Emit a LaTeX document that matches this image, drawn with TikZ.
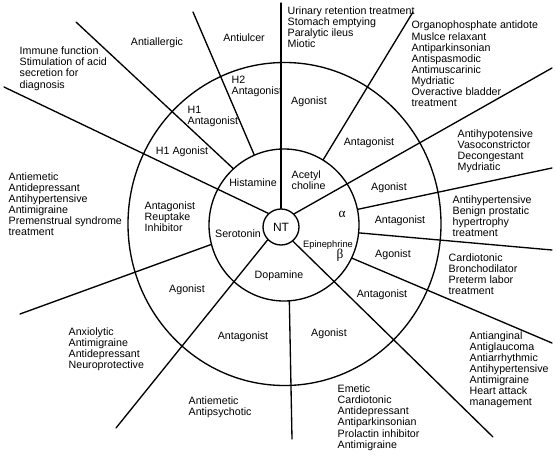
\documentclass[tikz,border=0pt]{standalone}
\usepackage{fontspec}
\setmainfont{Liberation Sans}
\newfontfamily\grk{Liberation Serif}
\usetikzlibrary{shapes.geometric}
\begin{document}
\begin{tikzpicture}[x=0.75pt,y=-0.75pt,line width=1pt,line cap=round,
  txt/.style={font=\fontsize{8}{8.3}\selectfont,inner sep=0pt,align=left},
  lst/.style={txt,anchor=west},
  ring/.style={ellipse,draw,inner sep=0pt}]
  \useasboundingbox (0,0) rectangle (556,456);
  % rings
  \node[ring,minimum width=234.75pt,minimum height=242.25pt] (outer) at (284.5,224) {};
  \node[ring,minimum width=112.5pt,minimum height=114pt] (mid) at (284,225) {};
  \node[circle,draw,minimum size=27pt,inner sep=0pt,
    font=\fontsize{9}{10}\selectfont] (nt) at (281,227) {NT};
  % free ends of the spokes
  \coordinate (e1) at (281,3);
  \coordinate (e2) at (4,87);
  \coordinate (e3) at (76,22);
  \coordinate (e4) at (193,12);
  \coordinate (e5) at (413,12);
  \coordinate (e6) at (552,68);
  \coordinate (e7) at (552,168);
  \coordinate (e8) at (552,250);
  \coordinate (e9) at (552,343);
  \coordinate (e10) at (493,437);
  \coordinate (e11) at (292,439);
  \coordinate (e12) at (116,428);
  \coordinate (e13) at (20,314);
  % spokes
  \draw (nt.90) -- (e1);
  \draw (nt.133) -- (e2);
  \draw (mid.132) -- (e3);
  \draw (mid.113) -- (e4);
  \draw (mid.59) -- (e5);
  \draw (nt.45) -- (e6);
  \draw (mid.12) -- (e7);
  \draw (mid.-6) -- (e8);
  \draw (mid.-26) -- (e9);
  \draw (nt.-50) -- (e10);
  \draw (mid.-86) -- (e11);
  \draw (nt.224) -- (e12);
  \draw (mid.195) -- (e13);
  % transmitters
  \node[txt] (hist) at (253,182.7) {Histamine};
  \node[lst] (ach) at (291,180.5) {Acetyl\\choline};
  \node[txt,font=\fontsize{7}{8}\selectfont] (epi) at (328,245) {Epinephrine};
  \node[txt,font=\grk\fontsize{10}{11}\selectfont] (alpha) at (342,214) {α};
  \node[txt,font=\grk\fontsize{10}{11}\selectfont] (beta) at (340,255) {β};
  \node[txt] (dopa) at (279,276) {Dopamine};
  \node[txt] (sero) at (238,233.3) {Serotonin};
  % receptor actions
  \node[lst] (hiiant) at (231,86.7) {H2\\Antagonist};
  \node[lst] (hiant) at (187,116) {H1\\Antagonist};
  \node[txt] (hiag) at (182,151.7) {H1 Agonist};
  \node[txt] (achag) at (309,101.7) {Agonist};
  \node[txt] (achant) at (369,142.7) {Antagonist};
  \node[txt] (alag) at (389,187.3) {Agonist};
  \node[txt] (alant) at (400,220.7) {Antagonist};
  \node[txt] (beag) at (393,254.3) {Agonist};
  \node[txt] (beant) at (382,294.3) {Antagonist};
  \node[txt] (doag) at (329,334) {Agonist};
  \node[txt] (doant) at (243,337) {Antagonist};
  \node[txt] (seag) at (187,289.3) {Agonist};
  \node[lst] (seant) at (144,217) {Antagonist\\Reuptake\\Inhibitor};
  % therapeutic uses
  \node[txt] (ulcer) at (244,38) {Antiulcer};
  \node[txt] (allerg) at (157,43) {Antiallergic};
  \node[lst] (immune) at (19,68.7) {Immune function\\Stimulation of acid\\secretion for\\diagnosis};
  \node[lst] (urin) at (287,27.5) {Urinary retention treatment\\Stomach emptying\\Paralytic ileus\\Miotic};
  \node[lst] (organo) at (411,63.9) {Organophosphate antidote\\Muslce relaxant\\Antiparkinsonian\\Antispasmodic\\Antimuscarinic\\Mydriatic\\Overactive bladder\\treatment};
  \node[lst] (hypot) at (457,151) {Antihypotensive\\Vasoconstrictor\\Decongestant\\Mydriatic};
  \node[lst] (hypert) at (452,216) {Antihypertensive\\Benign prostatic\\hypertrophy\\treatment};
  \node[lst] (cardio) at (448,274) {Cardiotonic\\Bronchodilator\\Preterm labor\\treatment};
  \node[lst] (angin) at (469,370) {Antianginal\\Antiglaucoma\\Antiarrhythmic\\Antihypertensive\\Antimigraine\\Heart attack\\management};
  \node[lst] (emet) at (337,417.7) {Emetic\\Cardiotonic\\Antidepressant\\Antiparkinsonian\\Prolactin inhibitor\\Antimigraine};
  \node[lst] (psych) at (188,407) {Antiemetic\\Antipsychotic};
  \node[lst] (anxio) at (68,349.5) {Anxiolytic\\Antimigraine\\Antidepressant\\Neuroprotective};
  \node[lst] (pms) at (8,204.3) {Antiemetic\\Antidepressant\\Antihypertensive\\Antimigraine\\Premenstrual syndrome\\treatment};
\end{tikzpicture}
\end{document}
